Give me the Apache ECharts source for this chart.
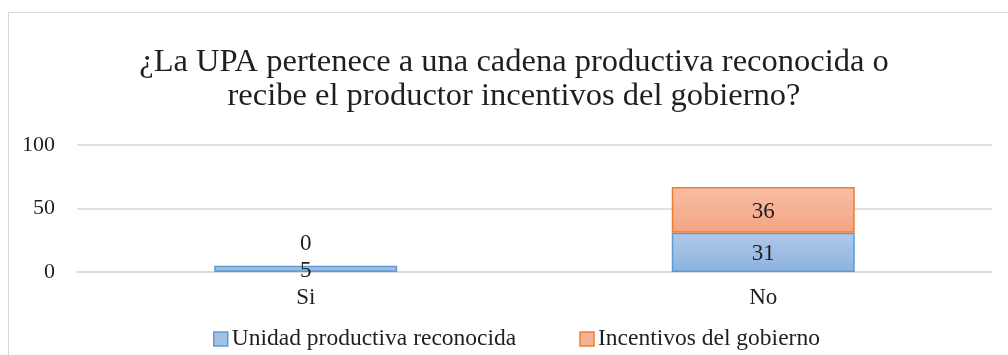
<!DOCTYPE html>
<html>
<head>
<meta charset="utf-8">
<script src="https://cdn.jsdelivr.net/npm/echarts@6/dist/echarts.min.js"></script>
<style>
  html, body { margin: 0; padding: 0; background: #ffffff; }
  #chart { width: 1008px; height: 355px; }
</style>
</head>
<body>
<div id="chart"></div>
<script>
// Answers per category
const categories = ['Si', 'No'];
const unidadValues = [5, 31];
const incentivosValues = [0, 36];
const yTicks = [0, 50, 100];

const titleLines = [
  '¿La UPA pertenece a una cadena productiva reconocida o',
  'recibe el productor incentivos del gobierno?'
];
const seriesNames = ['Unidad productiva reconocida', 'Incentivos del gobierno'];

const FONT = '"Liberation Serif", "Times New Roman", serif';
const INK = '#1f1f1f';

const chart = echarts.init(document.getElementById('chart'), null, { renderer: 'canvas' });

const blueFill = new echarts.graphic.LinearGradient(0, 0, 0, 1, [
  { offset: 0, color: '#afc9e8' },
  { offset: 1, color: '#8db2e0' }
]);
const orangeFill = new echarts.graphic.LinearGradient(0, 0, 0, 1, [
  { offset: 0, color: '#f8bea6' },
  { offset: 1, color: '#f3a482' }
]);

// Zero-height segments: no outline, label placed above the stack
const incentivosData = incentivosValues.map(v => v === 0
  ? { value: v, itemStyle: { borderWidth: 0 }, label: { position: 'top', distance: 10, offset: [0, 0] } }
  : v);

// Two-line title
const titleGraphics = titleLines.map((line, i) => ({
  type: 'text',
  x: 514,
  y: 62 + i * 34,
  silent: true,
  style: {
    text: line,
    fontFamily: FONT,
    fontSize: 32.5,
    fill: INK,
    align: 'center',
    verticalAlign: 'middle'
  }
}));

chart.setOption({
  animation: false,
  backgroundColor: '#ffffff',
  textStyle: { fontFamily: FONT },
  graphic: [{
    type: 'rect',
    shape: { x: 8.5, y: 12.5, width: 1010, height: 360 },
    style: { fill: 'none', stroke: '#d9d9d9', lineWidth: 1 },
    silent: true,
    z: -1
  }].concat(titleGraphics),
  legend: {
    top: 327,
    left: 213,
    padding: 0,
    itemGap: 63,
    itemWidth: 14,
    itemHeight: 14,
    icon: 'rect',
    textStyle: { fontFamily: FONT, fontSize: 23.5, color: INK, padding: [0, 0, 0, -1] },
    data: [
      { name: seriesNames[0], itemStyle: { color: '#a3c0e6', borderColor: '#5b9bd5', borderWidth: 1.5 } },
      { name: seriesNames[1], itemStyle: { color: '#f6b194', borderColor: '#ed7d31', borderWidth: 1.5 } }
    ]
  },
  grid: { left: 77, right: 16, top: 145, bottom: 83, containLabel: false },
  xAxis: {
    type: 'category',
    data: categories,
    axisLine: { show: true, lineStyle: { color: '#d9d9d9', width: 1.5 } },
    axisTick: { show: false },
    axisLabel: { fontFamily: FONT, fontSize: 23, color: INK, margin: 14 }
  },
  yAxis: {
    type: 'value',
    min: yTicks[0],
    max: yTicks[yTicks.length - 1],
    interval: 50,
    axisLine: { show: false },
    axisTick: { show: false },
    splitLine: { lineStyle: { color: '#d9d9d9', width: 1.5 } },
    axisLabel: { fontFamily: FONT, fontSize: 22, color: INK, margin: 22 }
  },
  series: [
    {
      name: seriesNames[0],
      type: 'bar',
      stack: 'total',
      barWidth: '40%',
      data: unidadValues,
      itemStyle: { color: blueFill, borderColor: '#5b9bd5', borderWidth: 1.5 },
      label: { show: true, position: 'inside', offset: [0, 2], fontFamily: FONT, fontSize: 23, color: INK }
    },
    {
      name: seriesNames[1],
      type: 'bar',
      stack: 'total',
      barWidth: '40%',
      data: incentivosData,
      itemStyle: { color: orangeFill, borderColor: '#ed7d31', borderWidth: 1.5 },
      label: { show: true, position: 'inside', offset: [0, 2], fontFamily: FONT, fontSize: 23, color: INK }
    }
  ]
});
</script>
</body>
</html>
